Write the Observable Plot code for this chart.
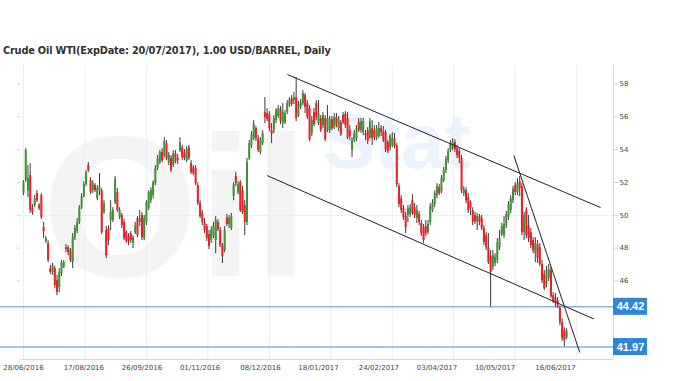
<!DOCTYPE html>
<html><head><meta charset="utf-8">
<script src="https://cdn.jsdelivr.net/npm/d3@7"></script>
<script src="https://cdn.jsdelivr.net/npm/@observablehq/plot@0.6"></script>
<style>
body{margin:0;background:#fff;width:680px;height:381px;overflow:hidden;font-family:"DejaVu Sans",Verdana,sans-serif}
#title{height:60px;position:relative}
#title span{position:absolute;left:3px;top:45px;font-weight:bold;font-size:9.8px;letter-spacing:-0.2px;color:#333;white-space:nowrap}
#chart svg [aria-label="y-axis tick"]{stroke:#c9d9ea}
#chart svg [aria-label="y-axis tick label"]{fill:#444}
#chart svg [aria-label="x-axis tick label"]{fill:#444}
</style></head><body>
<div id="title"><span>Crude Oil WTI(ExpDate: 20/07/2017), 1.00 USD/BARREL, Daily</span></div>
<div id="chart"></div>
<script>
const open = [
51.32,52.11,51.50,52.42,50.46,50.59,51.32,50.59,51.20,49.25,
48.40,48.28,46.75,46.51,46.75,46.02,45.59,46.45,46.82,48.03,
48.03,47.79,47.12,48.64,49.01,49.56,50.46,51.14,51.87,53.03,
52.11,51.50,51.81,51.01,51.50,51.50,50.17,49.07,49.19,49.68,
49.68,50.77,51.38,49.86,49.99,49.56,48.94,48.70,48.88,48.28,
48.94,49.80,49.56,49.99,48.58,49.56,50.40,50.89,51.20,51.93,
52.85,53.21,53.82,53.64,54.37,53.21,53.46,53.03,53.76,53.46,
53.94,54.12,53.82,53.33,54.12,53.15,52.91,52.85,51.81,50.71,
50.11,49.56,49.31,48.82,48.46,48.76,48.46,49.56,49.07,48.15,
47.85,49.86,49.44,49.19,51.14,52.36,51.38,51.99,51.50,50.59,
49.56,53.46,54.25,54.67,55.28,54.67,53.82,54.37,56.26,56.20,
56.14,55.16,55.16,55.77,56.02,56.44,55.59,55.65,56.26,56.69,
57.11,56.99,57.17,56.08,56.57,56.81,57.30,56.81,56.50,54.98,
56.26,56.81,55.59,55.90,55.47,55.90,55.16,55.16,55.83,55.34,
55.96,55.28,55.65,56.08,56.14,55.90,55.16,53.94,54.55,54.67,
55.65,55.16,55.04,54.98,55.16,54.73,55.28,55.16,54.73,54.80,
55.28,55.10,55.04,54.43,54.12,54.25,54.67,54.25,51.75,51.01,
50.40,49.92,49.99,50.05,50.89,50.46,49.80,50.05,49.50,49.25,
49.31,48.94,49.56,50.29,50.65,51.20,51.68,51.44,52.11,52.72,
53.33,53.94,54.06,54.43,54.06,53.88,53.46,51.32,51.50,51.07,
50.77,50.29,49.99,49.56,49.92,49.80,49.19,48.76,48.03,47.48,
46.82,47.06,47.24,48.03,48.82,48.76,49.37,49.86,50.29,50.89,
51.81,51.38,52.05,51.75,48.94,50.29,49.37,48.94,48.46,47.66,
48.21,48.03,47.00,46.39,45.78,46.14,46.63,45.10,44.98,44.80,
44.31,43.46,42.97,42.54];
const close = [
51.99,53.94,52.23,50.29,50.17,51.01,50.89,50.40,49.86,49.01,
48.58,47.24,46.51,46.94,45.72,45.29,46.51,47.12,47.12,47.91,
47.72,47.24,48.64,49.19,49.56,50.46,51.14,51.87,52.60,52.72,
51.38,51.93,51.50,51.62,51.75,48.94,50.71,47.54,48.46,50.17,
50.29,52.17,50.29,50.29,49.37,48.58,48.40,48.40,48.46,48.64,
49.37,48.76,49.80,48.64,49.80,50.77,51.38,51.50,51.99,52.85,
53.46,53.82,53.33,54.49,53.46,53.64,52.72,53.76,53.27,53.33,
54.43,53.52,53.46,54.00,53.46,52.60,52.54,51.93,50.71,49.92,
49.56,49.07,48.58,48.09,49.07,49.31,49.68,49.13,48.15,47.48,
49.07,49.44,49.80,49.92,51.87,51.93,51.87,50.29,50.17,49.56,
53.21,54.37,54.92,55.53,54.67,53.94,54.55,54.98,55.96,55.83,
55.28,54.98,55.90,56.38,56.50,55.71,56.26,56.20,56.81,57.05,
56.75,57.17,55.90,56.75,56.87,57.42,56.57,55.96,54.61,55.77,
55.53,55.96,56.20,55.16,56.08,54.61,55.90,55.83,55.28,55.96,
55.47,55.83,54.92,55.65,55.47,54.73,54.80,54.55,54.98,55.28,
55.16,55.71,55.71,54.86,54.49,55.71,54.67,54.73,55.28,55.28,
55.04,54.55,54.00,53.88,54.80,54.67,54.19,51.87,50.65,50.29,
49.86,49.25,50.40,50.46,50.11,49.99,50.29,49.56,48.88,48.46,
48.88,49.44,50.53,50.77,51.32,51.75,51.32,52.23,52.72,53.39,
53.88,54.37,54.43,54.00,53.64,53.46,51.50,51.56,50.89,50.29,
50.40,49.56,49.62,49.92,49.56,49.19,48.34,48.03,47.12,46.51,
47.54,47.42,48.34,48.58,49.31,49.44,50.05,50.65,51.01,51.56,
51.38,51.93,51.62,48.94,49.99,48.76,48.58,48.15,47.85,48.28,
47.36,47.00,46.02,45.53,46.63,46.69,45.04,44.74,44.62,44.49,
43.46,42.48,42.36,42.91];
const high = [
52.11,54.06,53.03,53.15,50.65,51.20,51.50,50.71,51.32,49.56,
48.70,48.46,46.94,47.06,46.88,46.33,46.75,47.24,47.24,48.21,
48.15,47.97,48.88,49.37,49.80,50.59,51.32,52.05,52.72,53.21,
52.29,52.11,51.93,51.81,52.54,51.62,50.89,49.31,49.37,50.89,
50.46,52.36,51.62,50.46,50.11,49.74,49.07,48.88,49.01,48.76,
49.56,49.92,50.29,50.17,49.99,50.89,51.50,51.68,52.11,53.03,
53.64,53.94,54.06,54.73,54.55,53.82,53.64,53.94,53.94,53.70,
54.73,54.25,54.00,54.18,54.25,53.33,53.03,53.03,51.99,50.89,
50.29,49.80,49.44,49.07,49.31,49.56,49.92,49.74,49.25,48.28,
49.31,50.05,49.99,50.11,51.99,52.60,52.05,52.11,51.75,50.89,
53.46,54.55,55.10,55.77,55.41,54.86,54.73,55.16,57.17,56.50,
56.32,55.59,56.08,56.50,56.69,56.63,56.81,56.38,56.99,57.17,
57.30,57.48,58.39,56.93,57.05,57.60,57.42,56.99,56.69,56.02,
56.50,56.99,56.99,56.08,56.26,56.08,56.69,56.02,56.02,56.20,
56.20,56.02,55.77,56.26,56.32,56.26,55.47,54.73,55.16,55.47,
55.90,55.90,55.90,55.16,55.34,55.90,55.77,55.47,55.47,55.65,
55.47,55.41,55.16,54.55,54.92,55.04,54.98,54.37,51.93,51.20,
50.59,50.17,50.59,50.65,51.26,50.71,50.59,50.23,49.68,49.44,
49.68,49.68,50.71,50.95,51.50,51.93,51.87,52.42,52.91,53.58,
54.06,54.55,54.67,54.61,54.25,54.06,53.64,51.75,51.68,51.32,
50.89,50.46,50.17,50.11,50.05,49.99,49.37,48.94,48.88,47.85,
47.85,47.66,48.58,49.07,49.50,49.92,50.23,50.83,51.20,51.75,
51.99,52.23,52.36,51.93,50.17,50.46,49.99,49.19,48.64,48.64,
48.46,48.28,47.24,46.63,46.88,47.00,46.82,45.29,45.23,44.98,
44.49,43.70,43.15,43.09];
const low = [
51.20,51.99,51.07,50.11,49.99,50.46,50.77,50.29,49.74,48.58,
48.28,47.12,46.39,46.33,45.53,45.10,45.29,46.27,46.75,47.72,
47.54,47.12,46.75,48.46,48.88,49.44,50.35,51.07,51.75,52.60,
51.26,51.32,51.38,50.89,51.20,48.82,50.05,47.36,48.15,49.07,
49.56,50.65,50.17,49.74,49.19,48.46,48.28,48.15,48.28,47.97,
48.82,48.64,49.31,48.46,48.46,49.37,50.29,50.71,51.01,51.81,
52.72,53.09,53.21,53.52,53.33,53.03,52.60,52.91,53.15,53.09,
53.82,53.33,53.33,53.21,53.33,52.48,52.42,51.81,50.59,49.80,
49.37,48.88,48.40,47.91,48.28,48.58,47.66,49.01,48.03,47.06,
47.72,49.31,49.19,49.07,50.89,51.75,51.26,50.17,50.05,48.76,
49.37,53.33,54.06,54.55,54.49,53.82,53.70,54.25,55.59,55.71,
55.10,54.37,54.98,55.59,55.90,55.53,55.28,55.53,56.14,56.57,
56.63,56.75,55.71,55.96,56.44,56.69,56.20,55.83,54.49,54.80,
55.41,55.77,55.47,55.04,55.28,54.49,55.04,54.98,55.16,55.22,
55.34,55.10,54.80,55.53,55.28,54.61,54.55,53.52,54.43,54.49,
55.04,54.98,54.86,54.55,54.31,54.61,54.25,54.55,54.55,54.67,
54.80,54.43,53.82,53.76,53.94,54.12,54.06,51.69,50.46,50.11,
49.68,48.88,49.56,49.86,49.99,49.80,49.50,49.37,48.70,48.28,
48.70,48.82,49.37,50.17,50.46,51.01,51.20,51.32,51.99,52.54,
53.15,53.82,53.94,53.82,53.46,53.15,51.32,51.14,50.71,50.11,
49.99,49.37,49.44,49.07,49.37,49.07,48.15,47.85,47.00,44.42,
46.63,46.88,47.06,47.85,48.70,48.58,49.19,49.68,50.11,50.71,
51.20,51.20,51.14,48.76,48.46,48.58,48.34,47.97,47.66,47.12,
47.06,46.88,45.84,45.41,45.59,45.96,44.92,44.62,44.37,44.31,
43.27,42.30,41.97,42.42];

const dateLabels = ["28/06/2016","17/08/2016","26/09/2016","01/11/2016","08/12/2016","18/01/2017","24/02/2017","03/04/2017","10/05/2017","16/06/2017"];
const labelIdx = [0,27,53,79,106,132,159,185,211,238];
const gridIdx = [0,27.5,55,82.5,110,137.5,165,192.5,220,247.5];
const yTicks = [46,48,50,52,54,56,58];
const levels = [44.42, 41.97];
// trend lines: [start index, start price, end index, end price]
const trendX1 = [118.1, 109.0, 219.4];
const trendY1 = [58.58, 52.42, 53.64];
const trendX2 = [258.2, 255.2, 248.9];
const trendY2 = [50.47, 43.68, 41.64];
// faint background watermark
const watermark = [
  {text: "Oil", x: 68, y: 50.2, size: 200, color: "#f4f4f4"},
  {text: "Stat", x: 167, y: 54.4, size: 78, color: "#edf3fa"}
];

const xDomain = [-1.34, 263.98];
const yDomain = [41.21, 59.13];
const levelStart = -10.3;
const green = "#3f9130", red = "#ee1c24";

const candles = close.map((c, i) => ({i, o: open[i], h: high[i], l: low[i], c}));
const trends = trendX1.map((x, k) => ({x1: x, y1: trendY1[k], x2: trendX2[k], y2: trendY2[k]}));

const chart = Plot.plot({
  width: 680, height: 321,
  marginTop: 5, marginBottom: 22, marginLeft: 20, marginRight: 67,
  style: {fontFamily: "DejaVu Sans, Verdana, sans-serif", background: "transparent", overflow: "visible"},
  x: {domain: xDomain, axis: null},
  y: {domain: yDomain, axis: null},
  marks: [
    Plot.text(watermark, {x: "x", y: "y", text: "text", fontSize: "size", fill: "color",
      fontWeight: "bold", fontFamily: "Liberation Sans, Arial, sans-serif", textAnchor: "middle"}),
    Plot.gridX(gridIdx, {stroke: "#e6eef7", strokeOpacity: 1}),
    Plot.gridY([50], {stroke: "#e6eef7", strokeOpacity: 1}),
    Plot.ruleY(levels, {x1: levelStart, x2: xDomain[1], stroke: "#4a90d9", strokeWidth: 1}),
    Plot.ruleX(candles, {x: "i", y1: "l", y2: "h", stroke: "#3a3a3a", strokeWidth: 1}),
    Plot.ruleX(candles, {x: "i", y1: "o", y2: "c", stroke: d => d.c >= d.o ? green : red, strokeWidth: 2}),
    Plot.link(trends, {x1: "x1", y1: "y1", x2: "x2", y2: "y2", stroke: "#222", strokeWidth: 1}),
    Plot.ruleX([xDomain[1]], {stroke: "#cddcec"}),
    Plot.ruleY([yDomain[0]], {stroke: "#cddcec"}),
    Plot.axisY({anchor: "right", ticks: yTicks, tickSize: 4, tickPadding: 2, fontSize: 7}),
    Plot.axisY({anchor: "left", ticks: yTicks, tickSize: 3, tickFormat: () => ""}),
    Plot.axisX({ticks: labelIdx, tickFormat: d => dateLabels[labelIdx.indexOf(d)], tickSize: 0, tickPadding: 6, fontSize: 7}),
    Plot.rect(levels, {x1: () => xDomain[1], x2: () => xDomain[1], y1: d => d, y2: d => d,
      insetRight: -34, insetTop: -8.5, insetBottom: -8.5, fill: "#2f86d8"}),
    Plot.text(levels, {x: () => xDomain[1], y: d => d, text: d => d.toFixed(2), dx: 17,
      fill: "white", fontWeight: "bold", fontSize: 11, fontFamily: "Liberation Sans, Arial, sans-serif", textAnchor: "middle"})
  ]
});
document.getElementById("chart").appendChild(chart);
</script>
</body></html>
